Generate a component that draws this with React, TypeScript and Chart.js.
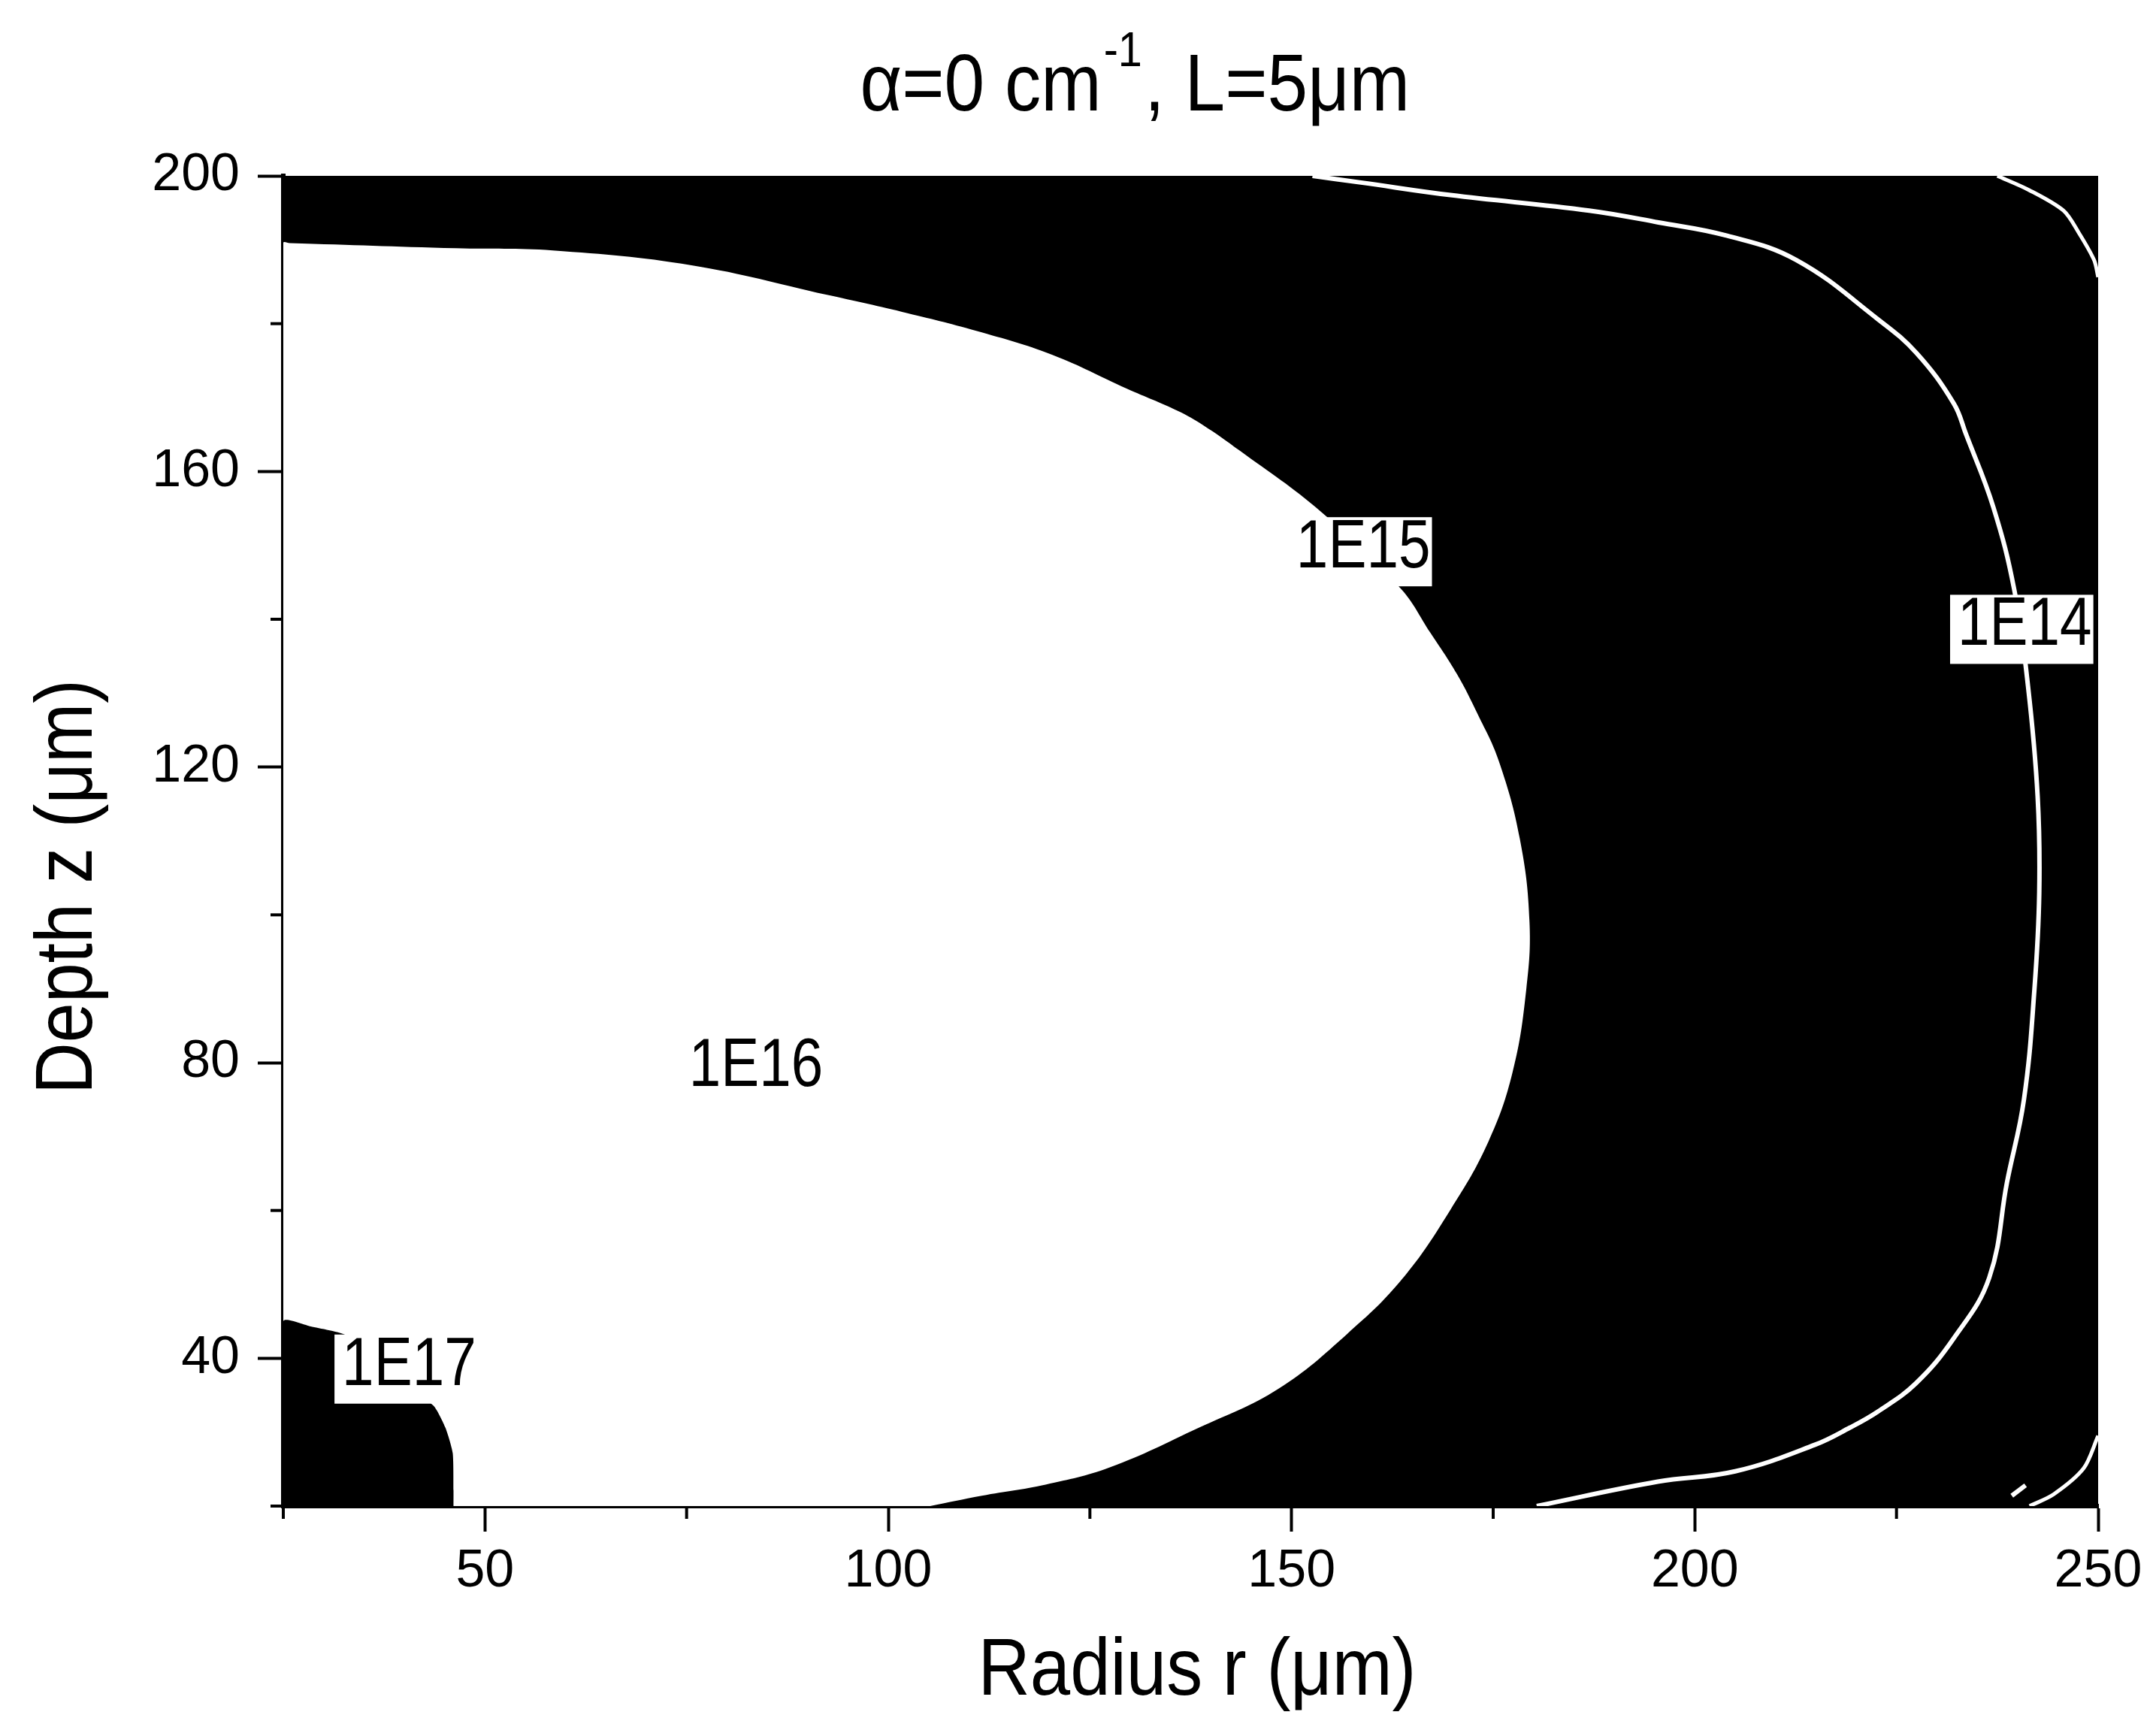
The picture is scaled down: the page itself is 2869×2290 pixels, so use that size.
import React, { useEffect, useRef } from "react";
import { Chart, registerables } from "chart.js";

Chart.register(...registerables);

// ---- axes ----
const xRange = [25, 250];
const yRange = [20, 200];
const xMajorTicks = [50, 100, 150, 200, 250];
const xMinorTicks = [25, 75, 125, 175, 225];
const yMajorTicks = [40, 80, 120, 160, 200];
const yMinorTicks = [20, 60, 100, 140, 180];

// ---- texts ----
const titleMain = "α=0 cm";
const titleSup = "-1";
const titleTail = ", L=5μm";
const xAxisTitle = "Radius r (μm)";
const yAxisTitle = "Depth z (μm)";

// ---- contour geometry (r, z) in µm ----
// region enclosed by the 1E15 contour (white lobe)
const contour1E15: number[][] = [
  [25, 20], [25, 190.9], [25.8, 190.9], [46.4, 190.2], [58.4, 189.9], [75.6, 187.9],
  [92.4, 183.9], [101.7, 181.6], [111.0, 179.0], [120.3, 175.8], [129.6, 171.2],
  [135.9, 168.2], [139.0, 166.3], [143.6, 162.8], [153.6, 154.6], [163.5, 144.2],
  [167.2, 138.2], [170.5, 132.6], [173.1, 127.1], [175.7, 120.8], [178.3, 110.3],
  [179.5, 99.1], [179.1, 89.9], [177.4, 78.7], [174.4, 69.3], [169.7, 60.1],
  [163.7, 50.7], [156.9, 43.3], [148.4, 35.9], [138.5, 30.6], [127.4, 25.2],
  [119.5, 22.9], [111.6, 21.4], [105.2, 20],
];
// region enclosed by the 1E17 contour (corner)
const contour1E17: number[][] = [
  [25, 20], [25, 45.0], [28.4, 44.3], [33.0, 43.0], [43.6, 33.6], [45.1, 30.6],
  [46.0, 27.2], [46.1, 22.1], [46.1, 20],
];
// 1E14 contour line
const contour1E14: number[][] = [
  [152.6, 200], [158.6, 199.1], [169.7, 197.4], [186.9, 195.3], [195.5, 193.7],
  [204.0, 191.9], [212.6, 188.6], [222.7, 180.6], [227.5, 176.0],
  [232.1, 169.2], [233.6, 165.1], [237.0, 155.2], [239.6, 144.0], [241.3, 131.0],
  [242.5, 116.0], [242.7, 103.0], [242.1, 89.9], [240.8, 75.0], [238.7, 63.8],
  [236.5, 50.9], [232.1, 42.7], [227.4, 36.6], [222.7, 32.8], [219.2, 30.6],
  [214.9, 28.3], [205.0, 24.7], [195.4, 23.3], [180.4, 20.0],
];
// outer contour pieces near the right corners
const contourTopCorner: number[][] = [
  [237.5, 200], [241.4, 198.1], [245.7, 195.3], [247.6, 192.3], [249.5, 188.6], [250, 186.3],
];
const contourBottomCorner: number[][] = [
  [250, 29.5], [248.2, 25.1], [244.5, 21.6], [241.5, 20],
];
const contourSpeck: number[][] = [
  [239.3, 21.4], [241.0, 22.8],
];

// ---- contour labels ----
const labelTexts = ["1E17", "1E16", "1E15", "1E14"];
const labelR = [40.6, 83.6, 158.9, 240.9];
const labelZ = [36.4, 76.8, 147.0, 136.5];

const TEXT_FONT = "'Liberation Sans', Arial, sans-serif";
const TICK_FONT = "'Liberation Sans', Arial, sans-serif";

const toPts = (arr: number[][]) => arr.map(([x, y]) => ({ x, y }));

function drawScaledText(
  ctx: CanvasRenderingContext2D,
  text: string,
  x: number,
  y: number,
  font: string,
  sx: number,
  align: CanvasTextAlign
) {
  ctx.save();
  ctx.font = font;
  ctx.fillStyle = "#000";
  ctx.textBaseline = "alphabetic";
  ctx.textAlign = align;
  ctx.translate(x, y);
  ctx.scale(sx, 1);
  ctx.fillText(text, 0, 0);
  ctx.restore();
}

export default function App() {
  const ref = useRef<HTMLCanvasElement>(null);

  useEffect(() => {
    const canvas = ref.current;
    if (!canvas) return;

    const bgPlugin = {
      id: "plotBackground",
      beforeDatasetsDraw(chart: any) {
        const { ctx, chartArea: a } = chart;
        ctx.save();
        ctx.fillStyle = "#000";
        ctx.fillRect(a.left, a.top, a.right - a.left, a.bottom - a.top);
        ctx.restore();
      },
    };

    const labelPlugin = {
      id: "contourLabels",
      afterDatasetsDraw(chart: any) {
        const { ctx } = chart;
        const xs = chart.scales.x;
        const ys = chart.scales.y;
        const F = 90;
        const sx = 0.85;
        ctx.save();
        ctx.font = `${F}px ${TEXT_FONT}`;
        labelTexts.forEach((t, i) => {
          const X = xs.getPixelForValue(labelR[i]);
          const Y = ys.getPixelForValue(labelZ[i]);
          const w = ctx.measureText(t).width * sx;
          ctx.fillStyle = "#fff";
          ctx.fillRect(X - w / 2 - 10, Y - 67, w + 12, 92);
          drawScaledText(ctx, t, X, Y, `${F}px ${TEXT_FONT}`, sx, "center");
        });
        ctx.restore();
      },
    };

    const decorPlugin = {
      id: "decor",
      afterDraw(chart: any) {
        const { ctx, chartArea: a } = chart;
        const xs = chart.scales.x;
        const ys = chart.scales.y;
        // minor ticks
        ctx.save();
        ctx.strokeStyle = "#000";
        ctx.lineWidth = 4;
        xMinorTicks.forEach((v) => {
          const X = xs.getPixelForValue(v);
          ctx.beginPath();
          ctx.moveTo(X, a.bottom);
          ctx.lineTo(X, a.bottom + 17);
          ctx.stroke();
        });
        yMinorTicks.forEach((v) => {
          const Y = ys.getPixelForValue(v);
          ctx.beginPath();
          ctx.moveTo(a.left - 17, Y);
          ctx.lineTo(a.left, Y);
          ctx.stroke();
        });
        ctx.restore();

        // title with superscript
        const mainFont = `107px ${TEXT_FONT}`;
        const supFont = `64px ${TEXT_FONT}`;
        ctx.save();
        ctx.font = mainFont;
        const w1 = ctx.measureText(titleMain).width;
        const w3 = ctx.measureText(titleTail).width;
        ctx.font = supFont;
        const w2 = ctx.measureText(titleSup).width;
        ctx.restore();
        const targetW = 731;
        const tsx = targetW / (w1 + w2 + w3 + 6);
        const tCenter = 1510;
        let tx = tCenter - targetW / 2;
        const tBase = 147;
        drawScaledText(ctx, titleMain, tx, tBase, mainFont, tsx, "left");
        tx += w1 * tsx + 3;
        drawScaledText(ctx, titleSup, tx, tBase - 59, supFont, tsx, "left");
        tx += w2 * tsx + 3;
        drawScaledText(ctx, titleTail, tx, tBase, mainFont, tsx, "left");

        // x axis title
        ctx.save();
        ctx.font = mainFont;
        const wx = ctx.measureText(xAxisTitle).width;
        const wy = ctx.measureText(yAxisTitle).width;
        ctx.restore();
        drawScaledText(ctx, xAxisTitle, 1593, 2255, mainFont, 583 / wx, "center");

        // y axis title (rotated)
        ctx.save();
        ctx.translate(122, 1180);
        ctx.rotate(-Math.PI / 2);
        drawScaledText(ctx, yAxisTitle, 0, 0, mainFont, 552 / wy, "center");
        ctx.restore();
      },
    };

    const tickFont = { family: TICK_FONT, size: 70, weight: "normal" as const };

    const chart = new Chart(canvas, {
      type: "line",
      data: {
        datasets: [
          {
            label: "1E14 line",
            data: toPts(contour1E14),
            borderColor: "#fff",
            borderWidth: 6,
            pointRadius: 0,
            fill: false,
            tension: 0.4,
            order: 1,
          },
          {
            label: "outer top",
            data: toPts(contourTopCorner),
            borderColor: "#fff",
            borderWidth: 5,
            pointRadius: 0,
            fill: false,
            tension: 0.3,
            order: 1,
          },
          {
            label: "outer bottom",
            data: toPts(contourBottomCorner),
            borderColor: "#fff",
            borderWidth: 5,
            pointRadius: 0,
            fill: false,
            tension: 0.3,
            order: 1,
          },
          {
            label: "speck",
            data: toPts(contourSpeck),
            borderColor: "#fff",
            borderWidth: 6,
            pointRadius: 0,
            fill: false,
            order: 1,
          },
          {
            label: "1E17 region",
            data: toPts(contour1E17),
            borderColor: "#000",
            borderWidth: 0,
            backgroundColor: "#000",
            pointRadius: 0,
            fill: "shape",
            tension: 0.2,
            order: 2,
          },
          {
            label: "1E15 region",
            data: toPts(contour1E15),
            borderColor: "#fff",
            borderWidth: 0,
            backgroundColor: "#fff",
            pointRadius: 0,
            fill: "shape",
            tension: 0.4,
            order: 3,
          },
        ],
      },
      options: {
        animation: false,
        responsive: false,
        maintainAspectRatio: false,
        devicePixelRatio: 1,
        events: [],
        layout: { padding: { top: 234, right: 77, left: 0, bottom: 0 } },
        plugins: {
          legend: { display: false },
          title: { display: false },
          tooltip: { enabled: false },
        },
        scales: {
          x: {
            type: "linear",
            position: "bottom",
            min: xRange[0],
            max: xRange[1],
            z: 1,
            afterBuildTicks: (s: any) => {
              s.ticks = xMajorTicks.map((v) => ({ value: v }));
            },
            afterFit: (s: any) => {
              s.height = 2290 - 2004;
            },
            grid: {
              drawOnChartArea: false,
              drawTicks: true,
              tickLength: 34,
              tickWidth: 4,
              tickColor: "#000",
            },
            border: { display: true, color: "#000", width: 6 },
            ticks: {
              color: "#000",
              font: tickFont,
              padding: 12,
              autoSkip: false,
              maxRotation: 0,
            },
          },
          y: {
            type: "linear",
            position: "left",
            min: yRange[0],
            max: yRange[1],
            z: 1,
            afterBuildTicks: (s: any) => {
              s.ticks = yMajorTicks.map((v) => ({ value: v }));
            },
            afterFit: (s: any) => {
              s.width = 377;
            },
            grid: {
              drawOnChartArea: false,
              drawTicks: true,
              tickLength: 34,
              tickWidth: 4,
              tickColor: "#000",
            },
            border: { display: true, color: "#000", width: 6 },
            ticks: {
              color: "#000",
              font: tickFont,
              padding: 24,
              autoSkip: false,
            },
          },
        },
      },
      plugins: [bgPlugin, labelPlugin, decorPlugin],
    } as any);

    return () => chart.destroy();
  }, []);

  return (
    <div
      style={{
        position: "fixed",
        left: 0,
        top: 0,
        width: 2869,
        height: 2290,
        background: "#fff",
      }}
    >
      <canvas
        ref={ref}
        width={2869}
        height={2290}
        style={{ display: "block", width: 2869, height: 2290 }}
      />
    </div>
  );
}
